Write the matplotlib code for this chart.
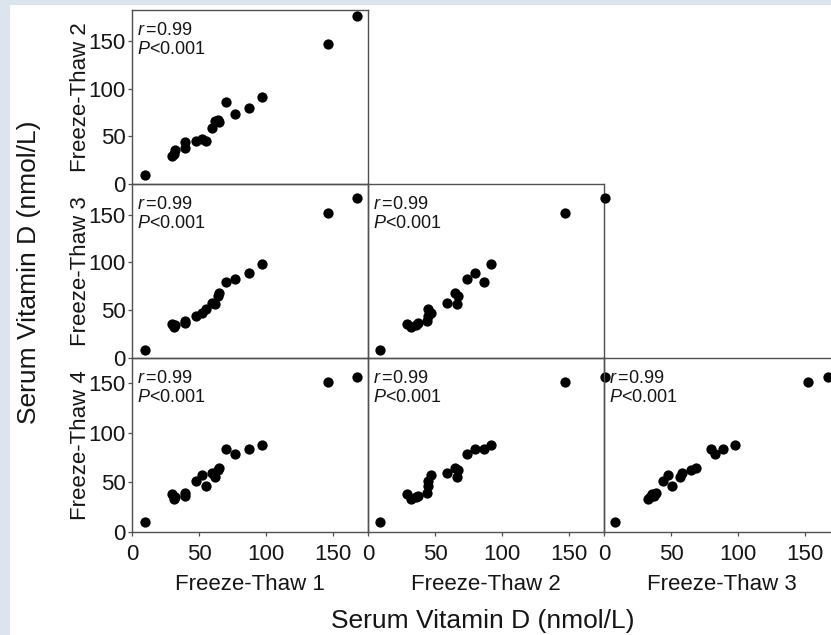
import matplotlib
matplotlib.use("Agg")
import matplotlib.pyplot as plt
from matplotlib.patches import Rectangle

plt.rcParams['font.family'] = ['Liberation Sans', 'DejaVu Sans']
plt.rcParams['mathtext.fontset'] = 'custom'
plt.rcParams['mathtext.rm'] = 'Liberation Sans'
plt.rcParams['mathtext.it'] = 'Liberation Sans:italic'

# Serum vitamin D per sample (nmol/L) after each freeze-thaw cycle
freeze_thaw_1 = [9.5, 30, 31, 32, 39.5, 39.5, 48, 52, 55, 59.5, 62, 64.5, 65, 70, 77, 87, 97, 146, 168]
freeze_thaw_2 = [9, 29, 32, 35.5, 37.5, 44, 45, 47, 45, 59, 66.5, 67, 65, 86.5, 74, 80, 92, 147, 177]
freeze_thaw_3 = [8.5, 36, 32.5, 34.5, 37, 39, 44, 47.5, 51, 58, 57, 65, 68.5, 80, 82.5, 88.5, 98, 152, 167]
freeze_thaw_4 = [9.8, 38, 33, 35, 36, 39.5, 51.5, 57, 46, 59.5, 55.5, 62, 64, 83, 78, 83, 88, 151, 156]

cycle_names = ["Freeze-Thaw 1", "Freeze-Thaw 2", "Freeze-Thaw 3", "Freeze-Thaw 4"]
r_text = "0.99"
p_text = "0.001"
tick_values = [0, 50, 100, 150]

series = [freeze_thaw_1, freeze_thaw_2, freeze_thaw_3, freeze_thaw_4]

W, H = 831, 635
fig = plt.figure(figsize=(W / 100, H / 100), dpi=100)
fig.patch.set_facecolor('#dce5ee')
fig.patches.append(Rectangle((10 / W, 0), 1 - 10 / W, (H - 5) / H,
                             transform=fig.transFigure, facecolor='white',
                             edgecolor='none', zorder=-5))

col_left = [132, 368, 604]
col_w = 236
row_top = [10, 184, 358]
row_h = 174
row_ylim = [183, 182, 175]
spine_col = '#505050'
text_col = '#151515'

for i in range(3):          # rows: y = cycle i+2
    for j in range(i + 1):  # columns: x = cycle j+1
        ax = fig.add_axes([col_left[j] / W, 1 - (row_top[i] + row_h) / H,
                           col_w / W, row_h / H])
        ax.set_facecolor('none')
        ax.plot(series[j], series[i + 1], 'o', color='black', markersize=7.4,
                markeredgewidth=0, clip_on=False, zorder=3)
        ax.set_xlim(0, 176)
        ax.set_ylim(0, row_ylim[i])
        for s in ax.spines.values():
            s.set_color(spine_col)
            s.set_linewidth(1.0)
        ax.tick_params(direction='out', length=3, width=0.9, color=spine_col,
                       labelsize=16, labelcolor=text_col)
        ax.set_xticks(tick_values)
        ax.set_yticks(tick_values)
        if i == 2:
            ax.tick_params(axis='x', pad=6)
        else:
            ax.tick_params(axis='x', length=0, labelbottom=False)
        if j == 0:
            ax.tick_params(axis='y', pad=1.5)
        else:
            ax.tick_params(axis='y', length=0, labelleft=False)

        ax.annotate(r"$r\,$=" + r_text, xy=(0, 1), xycoords='axes fraction',
                    xytext=(5, -25), textcoords='offset pixels',
                    ha='left', va='baseline', fontsize=13, color=text_col)
        ax.annotate(r"$P$<" + p_text, xy=(0, 1), xycoords='axes fraction',
                    xytext=(5, -44), textcoords='offset pixels',
                    ha='left', va='baseline', fontsize=13, color=text_col)

# Row labels (y) and column labels (x)
for i in range(3):
    yc = row_top[i] + row_h / 2
    fig.text(86 / W, 1 - yc / H, cycle_names[i + 1], rotation=90,
             rotation_mode='anchor', ha='center', va='baseline',
             fontsize=16, color=text_col)
for j in range(3):
    xc = col_left[j] + col_w / 2
    fig.text(xc / W, 1 - 590 / H, cycle_names[j], ha='center', va='baseline',
             fontsize=16, color=text_col)

fig.text(483 / W, 1 - 628 / H, "Serum Vitamin D (nmol/L)", ha='center',
         va='baseline', fontsize=19, color=text_col)
fig.text(36 / W, 1 - 272 / H, "Serum Vitamin D (nmol/L)", rotation=90,
         rotation_mode='anchor', ha='center', va='baseline',
         fontsize=19, color=text_col)

fig.savefig("out.png", dpi=100, facecolor=fig.get_facecolor())
